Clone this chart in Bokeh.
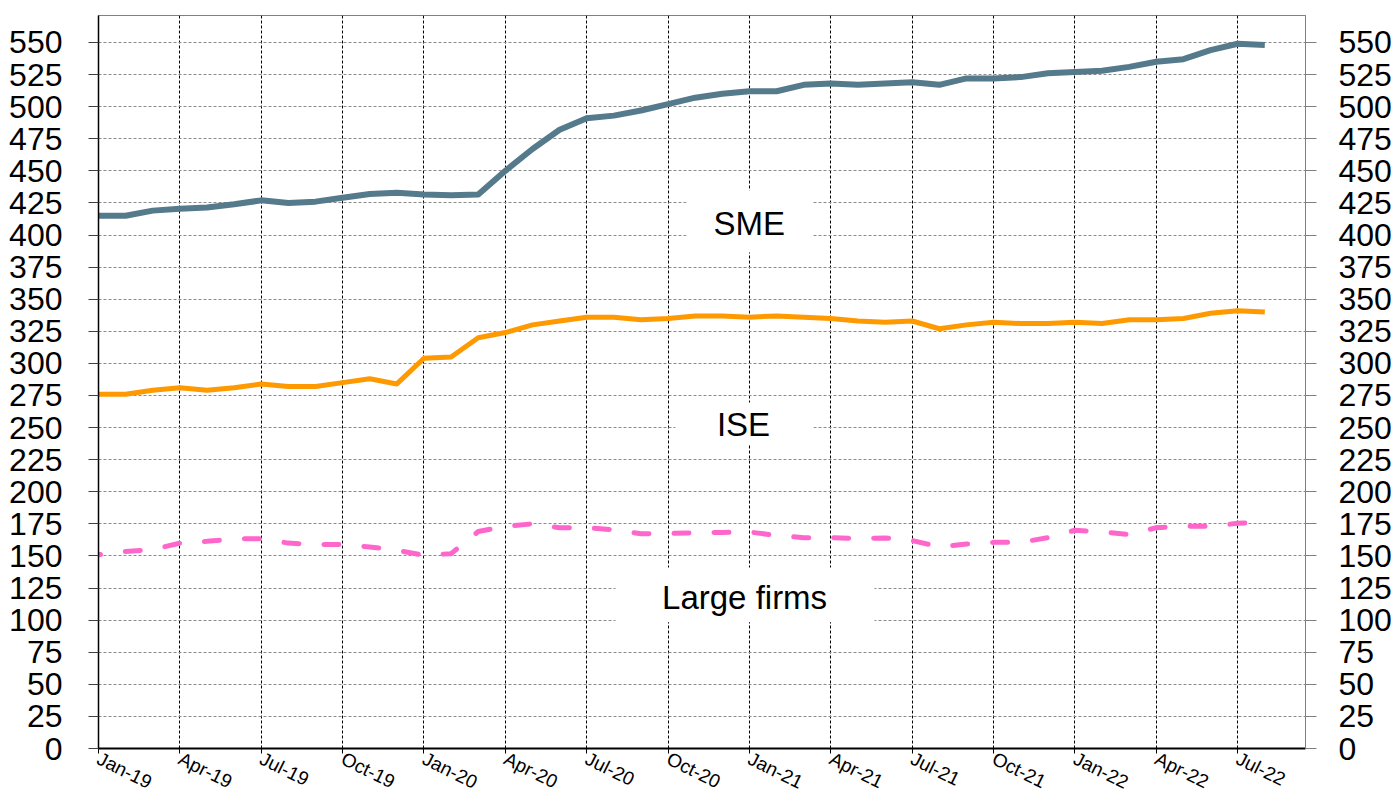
from bokeh.plotting import figure
from bokeh.models import Range1d, LinearAxis, FixedTicker, BoxAnnotation, Label
from bokeh.embed import file_html
from bokeh.resources import INLINE

# ---- data (monthly, Jan-19 .. Aug-22) ----
months = ["Jan-19", "Feb-19", "Mar-19", "Apr-19", "May-19", "Jun-19", "Jul-19", "Aug-19", "Sep-19", "Oct-19", "Nov-19", "Dec-19",
          "Jan-20", "Feb-20", "Mar-20", "Apr-20", "May-20", "Jun-20", "Jul-20", "Aug-20", "Sep-20", "Oct-20", "Nov-20", "Dec-20",
          "Jan-21", "Feb-21", "Mar-21", "Apr-21", "May-21", "Jun-21", "Jul-21", "Aug-21", "Sep-21", "Oct-21", "Nov-21", "Dec-21",
          "Jan-22", "Feb-22", "Mar-22", "Apr-22", "May-22", "Jun-22", "Jul-22", "Aug-22"]

sme = [415, 415, 419, 420.5, 421.5, 424, 427, 425, 426, 429, 432, 433,
       431.5, 431, 431.5, 450, 467, 482, 491, 493, 497, 502, 507, 510,
       512, 512, 517, 518, 517, 518, 519, 517, 522, 522, 523, 526,
       527, 528, 531, 535, 537, 544, 549, 548]

ise = [276, 276, 279, 281, 279, 281, 284, 282, 282, 285, 288, 284,
       304, 305, 320, 324, 330, 333, 336, 336, 334, 335, 337, 337,
       336, 337, 336, 335, 333, 332, 333, 327, 330, 332, 331, 331,
       332, 331, 334, 334, 335, 339, 341, 340]

large = [151, 153.5, 155, 160, 161.4, 163.3, 163.5, 160, 158.8, 159, 157, 154.4,
         150.5, 151.8, 169, 173, 175, 172, 172, 170.4, 167.3, 167.5, 168, 168.3,
         168.6, 166, 164.2, 164.2, 163.7, 164, 162, 157, 159.3, 160.6, 160.6, 164.2,
         170, 168.7, 166.6, 172, 173.3, 173, 175.5, 176]

y_ticks = list(range(0, 551, 25))
x_tick_idx = list(range(0, len(months), 3))

xs = list(range(len(months)))

FONT = "Liberation Sans"

p = figure(width=1396, height=805, output_backend="svg", toolbar_location=None,
           x_range=Range1d(0, 44.5), y_range=Range1d(0, 571),
           min_border_left=98, min_border_right=91, min_border_top=15, min_border_bottom=57,
           background_fill_color="white", border_fill_color="white")

p.outline_line_color = "#808080"
p.outline_line_width = 1

# x axis
xt = FixedTicker(ticks=x_tick_idx)
p.xaxis.ticker = xt
p.xaxis.major_label_overrides = {i: months[i] for i in x_tick_idx}
p.xaxis.major_label_orientation = -0.46
p.xaxis.major_label_text_font = FONT
p.xaxis.major_label_text_font_size = "19px"
p.xaxis.major_label_text_color = "black"
p.xaxis.major_label_standoff = 4
p.xaxis.axis_line_color = "black"
p.xaxis.axis_line_width = 2
p.xaxis.major_tick_out = 5
p.xaxis.major_tick_in = 0
p.xaxis.major_tick_line_color = "black"
p.xaxis.minor_tick_out = 0
p.xaxis.minor_tick_in = 0

# left y axis
yt = FixedTicker(ticks=y_ticks)
p.yaxis.ticker = yt
p.yaxis.major_label_text_font = FONT
p.yaxis.major_label_text_font_size = "32px"
p.yaxis.major_label_text_color = "black"
p.yaxis.major_label_standoff = 26
p.yaxis.axis_line_color = "black"
p.yaxis.axis_line_width = 1.5
p.yaxis.major_tick_out = 10
p.yaxis.major_tick_in = 0
p.yaxis.major_tick_line_color = "#404040"
p.yaxis.minor_tick_out = 0
p.yaxis.minor_tick_in = 0

# right y axis
ax_r = LinearAxis(ticker=FixedTicker(ticks=y_ticks),
                  major_label_text_font=FONT, major_label_text_font_size="32px",
                  major_label_text_color="black", major_label_standoff=22,
                  axis_line_color="#808080", axis_line_width=1,
                  major_tick_out=11, major_tick_in=0, major_tick_line_color="#808080",
                  minor_tick_out=0, minor_tick_in=0)
p.add_layout(ax_r, "right")

# grids
p.xgrid.ticker = xt
p.xgrid.grid_line_color = "#000000"
p.xgrid.grid_line_dash = "3 2"
p.xgrid.grid_line_width = 1
p.ygrid.ticker = yt
p.ygrid.grid_line_color = "#8c8c8c"
p.ygrid.grid_line_dash = "3 2"
p.ygrid.grid_line_width = 1

# series
p.line(xs, large, line_color="#FF66CC", line_width=5, line_dash="15 25",
       line_dash_offset=13, line_cap="round", line_join="round")
p.line(xs, ise, line_color="#FF9900", line_width=5, line_join="round")
p.line(xs, sme, line_color="#557A8C", line_width=6, line_join="round")

# text boxes
boxes = [
    (21.68, 26.33, 386.4, 434.7),
    (21.27, 26.36, 236.8, 269.6),
    (19.06, 28.61, 98.4, 141.0),
]
for l, r, b, t in boxes:
    p.add_layout(BoxAnnotation(left=l, right=r, bottom=b, top=t,
                               fill_color="white", fill_alpha=1.0,
                               line_color=None))

labels = [("SME", 23.99, 409.2), ("ISE", 23.78, 252.4), ("Large firms", 23.82, 117.9)]
for txt, lx, ly in labels:
    p.add_layout(Label(x=lx, y=ly, text=txt, text_align="center", text_baseline="middle",
                       text_font=FONT, text_font_size="33px", text_color="black"))

open("out.html", "w").write(file_html(p, INLINE))
